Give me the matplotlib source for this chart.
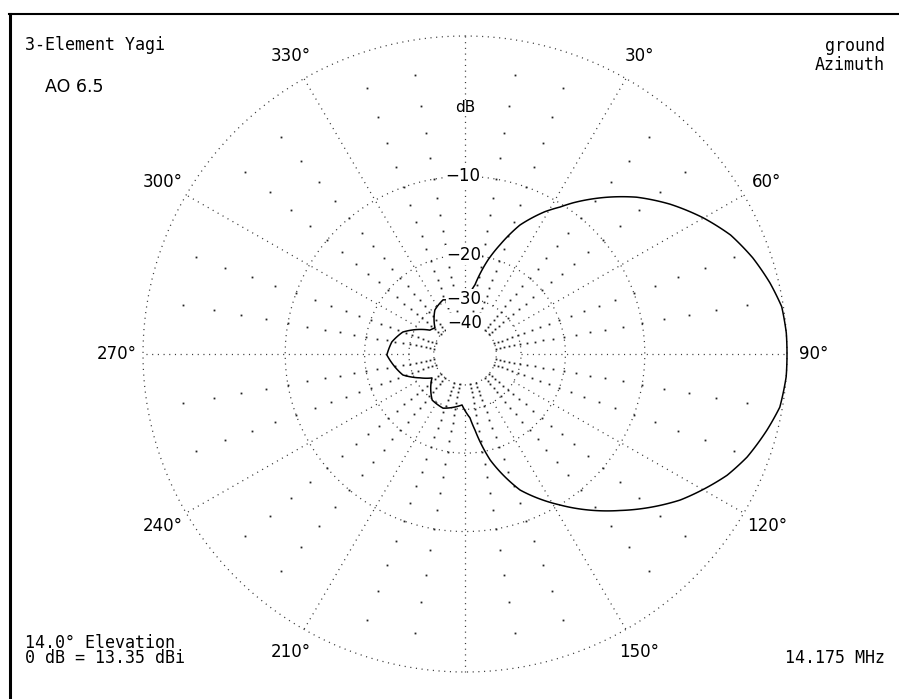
import numpy as np
import matplotlib
matplotlib.use("Agg")
import matplotlib.pyplot as plt
from matplotlib.lines import Line2D

plt.rcParams["lines.scale_dashes"] = False

# Azimuth pattern: bearing (deg, clockwise from north) and gain relative to peak (dB)
azimuth_deg = [-3.0, 4.6, 8.1, 13.6, 17.6, 22.8, 29.0, 32.6, 35.2, 41.8, 47.2,
               53.5, 59.9, 65.6, 71.3, 76.7, 81.4, 86.2, 90.0, 94.1, 99.7,
               104.3, 110.3, 115.1, 124.5, 135.6, 148.2, 158.2, 166.8, 172.6,
               175.6, 183.3, 201.8, 215.1, 233.7, 241.8, 251.1, 263.0, 269.3,
               279.5, 289.7, 304.5, 311.4, 326.0, 338.2, 357.0]
gain_db = [-31.5, -28.3, -26.0, -20.4, -17.5, -14.1, -11.5, -10.3, -9.3, -7.1, -5.5,
           -4.0, -2.7, -1.7, -1.0, -0.47, -0.09, 0.0, 0.0, 0.0, -0.14,
           -0.56, -1.17, -1.83, -3.6, -6.4, -10.0, -13.3, -18.4, -24.4,
           -27.5, -31.4, -29.1, -29.7, -35.4, -31.6, -27.3, -25.3, -24.3,
           -25.2, -27.2, -34.7, -35.8, -30.7, -29.1, -31.5]

# Grid definition
ring_db = [0, -10, -20, -30, -40]
ring_labels = ["\u221210", "\u221220", "\u221230", "\u221240"]
spoke_deg = list(range(0, 360, 30))
bearing_labels = {30: "30°", 60: "60°", 90: "90°", 120: "120°", 150: "150°",
                  210: "210°", 240: "240°", 270: "270°", 300: "300°", 330: "330°"}
minor_deg = [a for a in range(0, 360, 10) if a % 30]
minor_db = list(range(-2, -42, -2))


def arrl_radius(db):
    """ARRL log scale: radius shrinks by 0.89 for every 2 dB."""
    return 0.89 ** (-np.asarray(db, dtype=float) / 2.0)


W, H = 899, 699
fig = plt.figure(figsize=(W / 100, H / 100), dpi=100)
cx, cy, rx, ry = 465, 354, 322, 318
ax = fig.add_axes([(cx - rx) / W, (H - cy - ry) / H, 2 * rx / W, 2 * ry / H],
                  projection="polar")
ax.set_theta_zero_location("N")
ax.set_theta_direction(-1)
ax.set_aspect("auto")
ax.set_rlim(0, 1)
ax.grid(False)
ax.set_xticks([])
ax.set_yticks([])
ax.spines["polar"].set_visible(False)
ax.patch.set_visible(False)

dot_style = dict(color="#3a3a3a", lw=0.9, linestyle=(0, (0.8, 3.3)), clip_on=False)

# dB rings
th = np.linspace(0, 2 * np.pi, 721)
for db in ring_db:
    ax.plot(th, np.full_like(th, arrl_radius(db)), **dot_style)

# 30-degree spokes from the -30 dB ring outwards
r_inner = float(arrl_radius(-30))
for a in spoke_deg:
    t = np.deg2rad(a)
    ax.plot([t, t], [r_inner, 1.0], **dot_style)

# 2 dB tick dots along the 10-degree bearings
mt, mr = np.meshgrid(np.deg2rad(minor_deg), arrl_radius(minor_db))
ax.plot(mt.ravel(), mr.ravel(), linestyle="none", marker="s", ms=1.3,
        mew=0, color="#222222", clip_on=False)

# Pattern trace (segments follow the polar geometry rather than straight chords)
trace, = ax.plot(np.deg2rad(azimuth_deg), arrl_radius(gain_db), color="black",
                 lw=1.1, clip_on=False, zorder=3)
trace.get_path()._interpolation_steps = 40

# Ring value labels on the north spoke
for db, lab in zip(ring_db[1:], ring_labels):
    ax.text(np.deg2rad(-0.8), arrl_radius(db), lab, ha="center", va="center",
            fontsize=12, family="DejaVu Sans", zorder=5,
            bbox=dict(facecolor="white", edgecolor="none", pad=0.5))
ax.text(0, 0.774, "dB", ha="center", va="center", fontsize=11,
        family="DejaVu Sans", zorder=5,
        bbox=dict(facecolor="white", edgecolor="none", pad=0.5))

# Bearing labels
for a, lab in bearing_labels.items():
    ax.text(np.deg2rad(a), 1.083, lab, ha="center", va="center", fontsize=12,
            family="DejaVu Sans", clip_on=False)

# Corner annotations
mono = dict(family="DejaVu Sans Mono", fontsize=12)
fig.text(25 / W, 1 - 50 / H, "3-Element Yagi", va="baseline", ha="left", **mono)
fig.text(45 / W, 1 - 92 / H, "AO 6.5", va="baseline", ha="left",
         family="DejaVu Sans", fontsize=12.5)
fig.text(885 / W, 1 - 70 / H, "ground\nAzimuth", va="baseline", ha="right",
         multialignment="right", linespacing=1.05, **mono)
fig.text(25 / W, 1 - 663 / H, "14.0° Elevation\n0 dB = 13.35 dBi", va="baseline",
         ha="left", multialignment="left", linespacing=0.82, **mono)
fig.text(885 / W, 1 - 663 / H, "14.175 MHz", va="baseline", ha="right", **mono)

# Frame
fig.add_artist(Line2D([9 / W, 1], [1 - 14 / H, 1 - 14 / H], color="black", lw=1.5))
fig.add_artist(Line2D([9.5 / W, 9.5 / W], [0, 1 - 14 / H], color="black", lw=2.2))

fig.savefig("out.png", dpi=100, facecolor="white")
